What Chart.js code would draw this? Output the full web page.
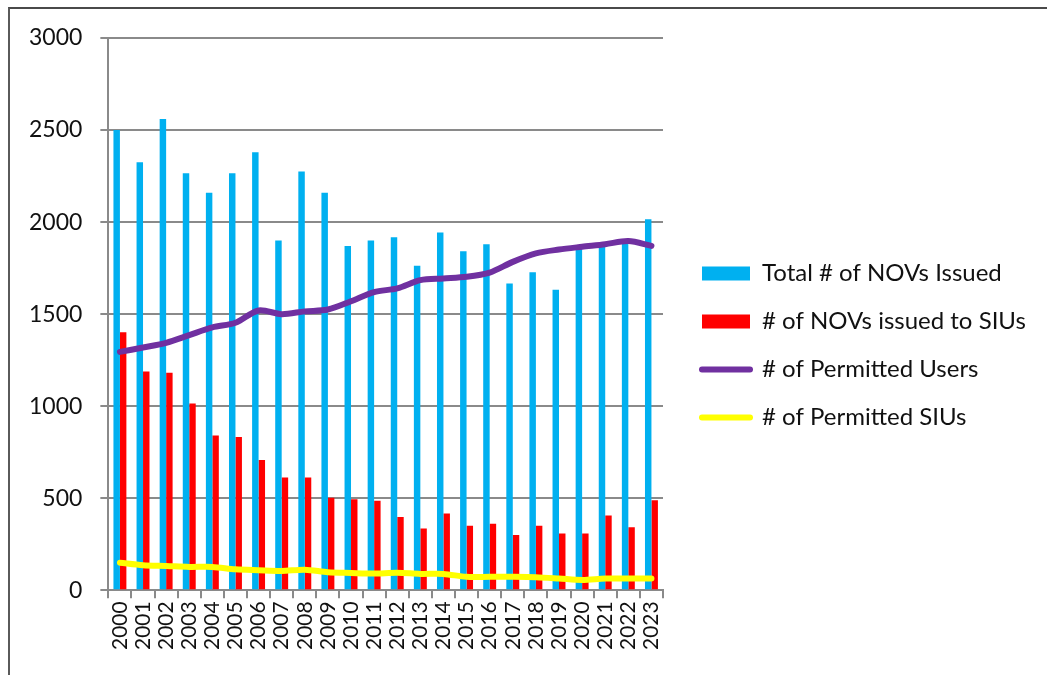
<!DOCTYPE html>
<html>
<head>
<meta charset="utf-8">
<script src="https://cdn.jsdelivr.net/npm/chart.js@4"></script>
<style>
  html, body { margin: 0; padding: 0; background: #ffffff; }
  #wrap { position: relative; width: 1047px; height: 675px; overflow: hidden; }
  #frame { position: absolute; left: 8px; top: 7px; width: 1100px; height: 700px;
           border-left: 2px solid #5a5a5a; border-top: 2px solid #4a4a4a; }
  canvas { position: absolute; left: 0; top: 0; }
</style>
</head>
<body>
<div id="wrap">
  <div id="frame"></div>
  <canvas id="chart" width="1047" height="675"></canvas>
</div>
<script>
// Reporting years
const years = ['2000', '2001', '2002', '2003', '2004', '2005', '2006', '2007', '2008', '2009', '2010', '2011',
               '2012', '2013', '2014', '2015', '2016', '2017', '2018', '2019', '2020', '2021', '2022', '2023'];

// Notices of violation
const totalNOVs = [2500, 2325, 2560, 2265, 2160, 2265, 2380, 1900, 2275, 2160, 1870, 1900,
                   1917, 1763, 1944, 1841, 1880, 1667, 1728, 1632, 1855, 1870, 1885, 2015];
const siuNOVs = [1402, 1188, 1181, 1014, 841, 833, 708, 612, 612, 502, 495, 487,
                 398, 335, 417, 350, 362, 300, 350, 308, 308, 406, 342, 489];

// Permit counts
const permittedUsers = [1295, 1319, 1344, 1386, 1428, 1453, 1520, 1500, 1515, 1525, 1570, 1620,
                        1640, 1685, 1694, 1703, 1726, 1784, 1830, 1851, 1866, 1880, 1897, 1871];
const permittedSIUs = [150, 136, 132, 127, 127, 114, 109, 105, 112, 98, 94, 91,
                       95, 89, 89, 73, 73, 73, 71, 64, 56, 64, 64, 64];

// Axis ticks
const yTicks = [0, 500, 1000, 1500, 2000, 2500, 3000];

const seriesNames = ['Total # of NOVs Issued', '# of NOVs issued to SIUs',
                     '# of Permitted Users', '# of Permitted SIUs'];

const FONT = 'Lato, "Liberation Sans", Arial, sans-serif';
const TEXT = '#111111';
const GRID = '#8a8a8a';
const LEGEND_GAP = 15;

// Places the legend a fixed distance to the right of the plot area,
// letting it use the rest of the canvas width
const legendPlacement = {
  id: 'legendPlacement',
  afterLayout(chart) {
    const lg = chart.legend;
    if (!lg) return;
    lg.left = chart.chartArea.right + LEGEND_GAP;
    lg.right = chart.width;
    lg.width = lg.right - lg.left;
  }
};

new Chart(document.getElementById('chart'), {
  type: 'bar',
  data: {
    labels: years,
    datasets: [
      { type: 'bar', label: seriesNames[0], data: totalNOVs, backgroundColor: '#00B0F0',
        borderWidth: 0, order: 2 },
      { type: 'bar', label: seriesNames[1], data: siuNOVs, backgroundColor: '#FF0000',
        borderWidth: 0, order: 2 },
      { type: 'line', label: seriesNames[2], data: permittedUsers, borderColor: '#7030A0',
        backgroundColor: '#7030A0', borderWidth: 6, pointRadius: 0, tension: 0.3,
        borderCapStyle: 'round', borderJoinStyle: 'round', order: 1 },
      { type: 'line', label: seriesNames[3], data: permittedSIUs, borderColor: '#FFFF00',
        backgroundColor: '#FFFF00', borderWidth: 6, pointRadius: 0, tension: 0.3,
        borderCapStyle: 'round', borderJoinStyle: 'round', order: 1 }
    ]
  },
  options: {
    responsive: false,
    animation: false,
    devicePixelRatio: 1,
    layout: { padding: { left: 11, top: 38, bottom: 22, right: 184 } },
    datasets: { bar: { categoryPercentage: 0.56, barPercentage: 1.0 } },
    scales: {
      x: {
        offset: true,
        grid: { display: true, drawOnChartArea: false, drawTicks: true, tickLength: 8,
                color: GRID, lineWidth: 2 },
        border: { display: true, color: GRID, width: 2 },
        ticks: { autoSkip: false, minRotation: 90, maxRotation: 90, padding: 3,
                 color: TEXT, font: { family: FONT, size: 21 } }
      },
      y: {
        min: 0, max: 3000,
        afterBuildTicks: scale => { scale.ticks = yTicks.map(v => ({ value: v })); },
        grid: { color: GRID, lineWidth: 2, tickLength: 8, drawTicks: true },
        border: { display: true, color: GRID, width: 2 },
        ticks: { padding: 18, color: TEXT, font: { family: FONT, size: 23 },
                 callback: v => String(v) }
      }
    },
    plugins: {
      tooltip: { enabled: false },
      title: { display: false },
      legend: {
        position: 'right',
        maxWidth: 200,
        align: 'center',
        labels: {
          usePointStyle: true,
          pointStyleWidth: 48,
          boxHeight: 14,
          padding: 24,
          color: TEXT,
          font: { family: FONT, size: 24 },
          generateLabels: chart => chart.data.datasets.map((ds, i) => {
            const isLine = ds.type === 'line';
            return {
              text: ds.label,
              fillStyle: isLine ? ds.borderColor : ds.backgroundColor,
              strokeStyle: isLine ? ds.borderColor : ds.backgroundColor,
              lineWidth: isLine ? ds.borderWidth : 0,
              lineCap: 'round',
              pointStyle: isLine ? 'line' : 'rect',
              rotation: 0,
              hidden: false,
              fontColor: TEXT,
              datasetIndex: i
            };
          })
        }
      }
    }
  },
  plugins: [legendPlacement]
});
</script>
</body>
</html>
